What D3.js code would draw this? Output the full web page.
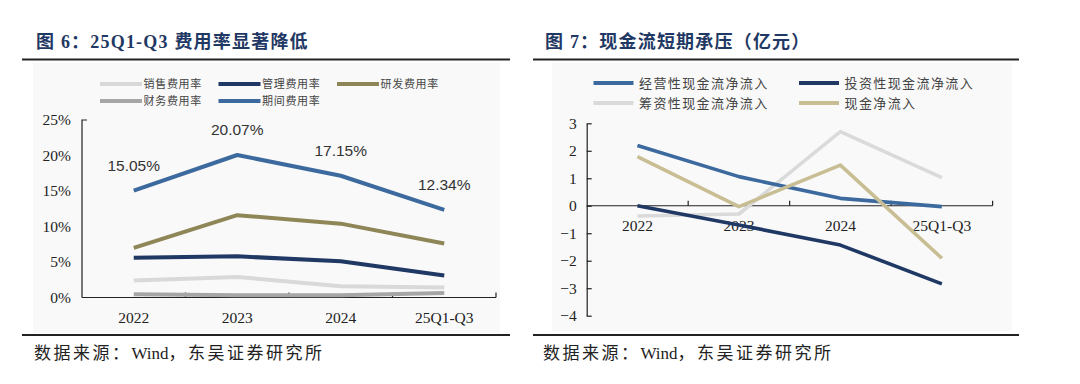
<!DOCTYPE html>
<html><head><meta charset="utf-8">
<script src="https://cdn.jsdelivr.net/npm/d3@7/dist/d3.min.js"></script>
<style>
body{margin:0;background:#fff;}
svg{display:block;}
</style></head>
<body>
<svg id="c" width="1080" height="384"></svg>
<script>
// ---------- data ----------
const categories = ["2022","2023","2024","25Q1-Q3"];

const expenseNames = ["销售费用率","管理费用率","研发费用率","财务费用率","期间费用率"];
const salesRate   = [2.4, 2.9, 1.6, 1.4];
const adminRate   = [5.6, 5.8, 5.1, 3.1];
const rdRate      = [7.0, 11.6, 10.4, 7.6];
const financeRate = [0.45, 0.3, 0.3, 0.65];
const periodRate  = [15.05, 20.07, 17.15, 12.34];
const periodLabels = ["15.05%","20.07%","17.15%","12.34%"];
const leftTicks = [0,5,10,15,20,25];

const cashNames = ["经营性现金流净流入","投资性现金流净流入","筹资性现金流净流入","现金净流入"];
const operatingCF = [2.19, 1.06, 0.27, -0.03];
const investingCF = [0.0, -0.7, -1.43, -2.84];
const financingCF = [-0.37, -0.3, 2.7, 1.02];
const netCF       = [1.79, -0.03, 1.48, -1.91];
const rightTicks = [-4,-3,-2,-1,0,1,2,3];

const titles = ["图 6：25Q1-Q3 费用率显著降低","图 7：现金流短期承压（亿元）"];
const sourceParts = ["数据来源：","Wind","，东吴证券研究所"];

// ---------- styles ----------
const serif = "'Liberation Serif','Times New Roman','Noto Sans CJK SC',serif";
const cjk = "'Liberation Serif','Noto Sans CJK SC',serif";
const leftColors = ["#d9d9d9","#1f3864","#8e8657","#a6a6a6","#3d6a9e"];
const rightColors = ["#3d6a9e","#1f3864","#dadada","#c9be93"];

const svg = d3.select("#c");

// panels
svg.append("rect").attr("x",33).attr("y",63).attr("width",467).attr("height",270).attr("fill","#f9f9f9");
svg.append("rect").attr("x",552).attr("y",63).attr("width",460).attr("height",268).attr("fill","#f9f9f9");

// titles & rules
[[36,22,510],[545,533,1019]].forEach((p,i)=>{
  svg.append("text").attr("x",p[0]).attr("y",48).text(titles[i])
    .attr("font-family",cjk).attr("font-weight","bold").attr("font-size",18)
    .attr("letter-spacing","1.2px").attr("fill","#1f3864");
  svg.append("line").attr("x1",p[1]).attr("x2",p[2]).attr("y1",59.5).attr("y2",59.5)
    .attr("stroke","#222").attr("stroke-width",2);
  svg.append("line").attr("x1",p[1]).attr("x2",p[2]).attr("y1",335).attr("y2",335)
    .attr("stroke","#222").attr("stroke-width",2);
  const st = svg.append("text").attr("x",p[0]-2).attr("y",359)
    .attr("font-family",cjk).attr("font-size",17).attr("fill","#222");
  sourceParts.forEach((t,j)=>{
    st.append("tspan").text(t).attr("letter-spacing", j===1 ? "0px" : "2.5px");
  });
});

// ---------- left chart ----------
const xL = d3.scaleBand().domain(categories).range([82,496]).padding(0);
const yL = d3.scaleLinear().domain([0,25]).range([297.5,120]);
const gL = svg.append("g");

// y axis
const yAxL = gL.append("g").attr("transform","translate(82,0)")
  .call(d3.axisLeft(yL).tickValues(leftTicks).tickFormat(d=>d+"%").tickSize(0).tickPadding(11));
yAxL.select(".domain").remove();
yAxL.selectAll("text").attr("font-family",serif).attr("font-size",15.5).attr("fill","#222");
gL.append("path").attr("d",`M87,${yL(25)}H82V${yL(0)}`).attr("fill","none").attr("stroke","#222").attr("stroke-width",1.2);

// x axis
const xAxL = gL.append("g").attr("transform",`translate(0,${yL(0)})`)
  .call(d3.axisBottom(xL).tickSize(0).tickPadding(14));
xAxL.select(".domain").remove();
xAxL.selectAll("text").attr("font-family",serif).attr("font-size",15.5).attr("fill","#222");
gL.append("line").attr("x1",82).attr("x2",496).attr("y1",yL(0)).attr("y2",yL(0)).attr("stroke","#222").attr("stroke-width",1.2);
gL.selectAll(".xtL").data(categories).enter().append("line")
  .attr("x1",d=>xL(d)+xL.bandwidth()).attr("x2",d=>xL(d)+xL.bandwidth())
  .attr("y1",yL(0)).attr("y2",yL(0)-5).attr("stroke","#222").attr("stroke-width",1.2);

const leftSeries = [salesRate, adminRate, rdRate, financeRate, periodRate];
const lineL = d3.line().x((d,i)=>xL(categories[i])+xL.bandwidth()/2).y(d=>yL(d));
leftSeries.forEach((s,i)=>{
  gL.append("path").datum(s).attr("d",lineL).attr("fill","none")
    .attr("stroke",leftColors[i]).attr("stroke-width",4).attr("stroke-linejoin","round");
});
gL.selectAll(".lbl").data(periodRate).enter().append("text")
  .attr("x",(d,i)=>xL(categories[i])+xL.bandwidth()/2).attr("y",d=>yL(d)-25)
  .attr("dy","0.35em").attr("text-anchor","middle").text((d,i)=>periodLabels[i])
  .attr("font-family","'Liberation Sans',Arial,sans-serif").attr("font-size",15.5).attr("fill","#333");

// left legend
const legL = [[100,84],[218.5,84],[337,84],[100,101],[218.5,101]];
expenseNames.forEach((n,i)=>{
  const [lx,ly]=legL[i];
  svg.append("line").attr("x1",lx).attr("x2",lx+42).attr("y1",ly).attr("y2",ly)
    .attr("stroke",leftColors[i]).attr("stroke-width",4);
  svg.append("text").attr("x",lx+43.5).attr("y",ly).attr("dy","0.36em").text(n)
    .attr("font-family",cjk).attr("font-size",11).attr("letter-spacing","0.7px").attr("fill","#444");
});

// ---------- right chart ----------
const xR = d3.scaleBand().domain(categories).range([586.7,992.6]).padding(0);
const yR = d3.scaleLinear().domain([-4,3]).range([315.7,123.3]);
const gR = svg.append("g");

const yAxR = gR.append("g").attr("transform","translate(586.7,0)")
  .call(d3.axisLeft(yR).tickValues(rightTicks).tickFormat(d3.format("d")).tickSizeInner(-5).tickSizeOuter(0).tickPadding(10));
yAxR.select(".domain").attr("stroke","#222").attr("stroke-width",1.2);
yAxR.selectAll(".tick line").attr("stroke","#222").attr("stroke-width",1.2);
yAxR.selectAll("text").attr("font-family",serif).attr("font-size",15.5).attr("fill","#222");

const xAxR = gR.append("g").attr("transform",`translate(0,${yR(0)})`)
  .call(d3.axisBottom(xR).tickSize(0).tickPadding(14));
xAxR.select(".domain").remove();
xAxR.selectAll("text").attr("font-family",serif).attr("font-size",15.5).attr("fill","#222");
gR.append("line").attr("x1",586.7).attr("x2",992.6).attr("y1",yR(0)).attr("y2",yR(0)).attr("stroke","#222").attr("stroke-width",1.2);
gR.selectAll(".xtR").data(categories).enter().append("line")
  .attr("x1",d=>xR(d)+xR.bandwidth()).attr("x2",d=>xR(d)+xR.bandwidth())
  .attr("y1",yR(0)).attr("y2",yR(0)-5).attr("stroke","#222").attr("stroke-width",1.2);

const rightSeries = [operatingCF, investingCF, financingCF, netCF];
const lineR = d3.line().x((d,i)=>xR(categories[i])+xR.bandwidth()/2).y(d=>yR(d));
const orderR = [2,0,1,3];
orderR.forEach(i=>{
  gR.append("path").datum(rightSeries[i]).attr("d",lineR).attr("fill","none")
    .attr("stroke",rightColors[i]).attr("stroke-width",3.6).attr("stroke-linejoin","round");
});

// right legend
const legR = [[593.5,83],[799,83],[593.5,103],[799,103]];
cashNames.forEach((n,i)=>{
  const [lx,ly]=legR[i];
  svg.append("line").attr("x1",lx).attr("x2",lx+40).attr("y1",ly).attr("y2",ly)
    .attr("stroke",rightColors[i]).attr("stroke-width",4);
  svg.append("text").attr("x",lx+45.5).attr("y",ly).attr("dy","0.36em").text(n)
    .attr("font-family",cjk).attr("font-size",13).attr("letter-spacing","1.4px").attr("fill","#444");
});
</script>
</body></html>
